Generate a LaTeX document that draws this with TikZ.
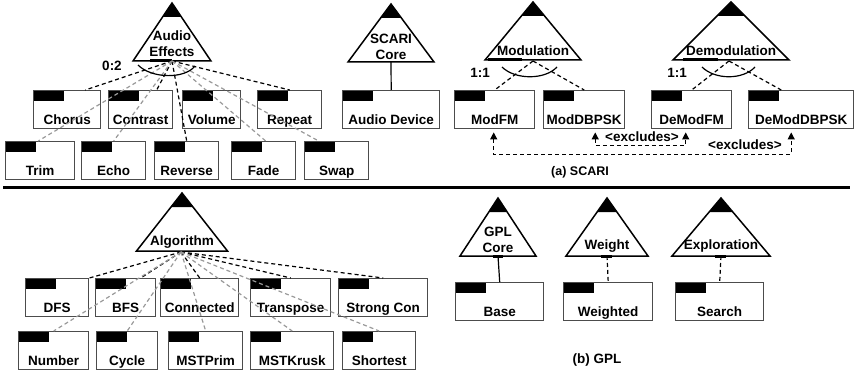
\documentclass[tikz,border=0pt]{standalone}
\usepackage{fontspec}
\setmainfont{Liberation Sans}
\usetikzlibrary{arrows.meta,calc,positioning}
% feature triangle: apex x, apex y, half base
\newcommand{\feattri}[3]{%
  \filldraw[tri] (#1,#2) -- ++(#3,58) -- ++({-2*#3},0) -- cycle;
  \fill (#1,#2) -- ++({0.24*#3},14) -- ++({-0.48*#3},0) -- cycle;}

\begin{document}
\begin{tikzpicture}[x=1pt,y=-1pt,>=Stealth,font=\fontsize{13.5}{16}\selectfont\bfseries,
  tri/.style={draw=black,fill=white,line width=1.5pt},
  fbox/.style={draw=black!70,line width=1.4pt,rectangle,anchor=north west,
    inner xsep=0pt,inner ysep=0pt,text height=34pt,text depth=4pt,
    path picture={\fill (path picture bounding box.north west) rectangle ++(30pt,-10pt);}},
  mand/.style={line width=1.2pt,dash pattern=on 4pt off 3pt},
  opt/.style={mand,black!40},
  excl/.style={line width=1.2pt,dash pattern=on 4pt off 3pt,
    {Triangle[width=7pt,length=7pt]}-{Triangle[width=7pt,length=7pt]}},
  port/.style={line width=3pt},
  card/.style={inner sep=0pt}]
  \useasboundingbox (0,0) rectangle (856,374);

  % (a) SCARI
  \feattri{172}{3}{39}
  \feattri{391}{4}{43}
  \feattri{533}{2}{48}
  \feattri{731}{2}{58}
  \draw[port] (150,61) -- (172,61);
  \draw[port] (488,60) -- (522,60);
  \draw[port] (683,60) -- (718,60);
  \node[align=center,card] (tae) at (172,43.5) {Audio\\Effects};
  \node[align=center,card] (tscari) at (391,46.5) {SCARI\\Core};
  \node[card] (tmod) at (533,51) {Modulation};
  \node[card] (tdemod) at (731,51) {Demodulation};
  \coordinate (ae) at (172,61);
  \coordinate (scari) at (391,62);
  \coordinate (mod) at (533,61);
  \coordinate (demod) at (729,61);

  \node[fbox,minimum width=67pt] (chorus) at (33,90) {Chorus};
  \node[fbox,minimum width=64pt] (contrast) at (108,90) {Contrast};
  \node[fbox,minimum width=58pt] (volume) at (182,90) {Volume};
  \node[fbox,minimum width=64pt] (repeat) at (257,90) {Repeat};
  \node[fbox,minimum width=97pt] (audiodev) at (342,90) {Audio Device};
  \node[fbox,minimum width=80pt] (modfm) at (454,90) {ModFM};
  \node[fbox,minimum width=81pt] (moddbpsk) at (543,90) {ModDBPSK};
  \node[fbox,minimum width=80pt] (demodfm) at (651,90) {DeModFM};
  \node[fbox,minimum width=105pt] (demoddbpsk) at (748,90) {DeModDBPSK};
  \node[fbox,minimum width=69pt] (trim) at (5,141) {Trim};
  \node[fbox,minimum width=64pt] (echo) at (81,141) {Echo};
  \node[fbox,minimum width=64pt] (reverse) at (154,141) {Reverse};
  \node[fbox,minimum width=64pt] (fade) at (231,141) {Fade};
  \node[fbox,minimum width=64pt] (swap) at (304,141) {Swap};

  \draw[mand] (ae) -- ($(chorus.north)+(18,0)$);
  \draw[mand] (ae) -- ($(contrast.north)+(16,0)$);
  \draw[mand] (ae) -- (repeat.north);
  \draw[mand] (ae) -- (reverse.north);
  \draw[opt] (ae) -- ($(trim.north)+(-2,0)$);
  \draw[opt] (ae) -- (echo.north);
  \draw[opt] (ae) -- ($(fade.north)+(2,0)$);
  \draw[opt] (ae) -- ($(swap.north)+(-18,0)$);
  \draw[line width=1.2pt] (138,65) .. controls (152,79) and (185,79) .. (195,66);
  \node[card] (card1) at (112,66) {0:2};

  \draw[line width=1.2pt] (scari) -- (audiodev.north);

  \draw[mand] (mod) -- (modfm.north);
  \draw[mand] (mod) -- (moddbpsk.north);
  \draw[line width=1.2pt] (502,67) .. controls (515,80) and (545,80) .. (557,67);
  \node[card] (card2) at (480,73) {1:1};
  \draw[mand] (demod) -- (demodfm.north);
  \draw[mand] (demod) -- ($(demoddbpsk.north)+(-20,0)$);
  \draw[line width=1.2pt] (702,67) .. controls (715,80) and (743,80) .. (755,67);
  \node[card] (card3) at (677,73) {1:1};

  \draw[excl] ($(moddbpsk.south)+(11,3)$) -- ++(0,13) -| ($(demodfm.south)+(-6,3)$);
  \node[card] (ex1) at (642,137) {\textless excludes\textgreater};
  \draw[excl] ($(modfm.south)+(-1,3)$) -- ++(0,22) -| ($(demoddbpsk.south)+(-10,3)$);
  \node[card] (ex2) at (745,145) {\textless excludes\textgreater};
  \node[card,font=\fontsize{12.5}{14}\selectfont\bfseries] (capa) at (580,172) {(a) SCARI};

  \draw[line width=3pt] (3,188) -- (850,188);

  % (b) GPL
  \feattri{182}{193}{45.5}
  \feattri{498}{198}{38}
  \feattri{607}{198}{41}
  \feattri{721}{198}{49}
  \draw[port] (493,256) -- (503,256);
  \draw[port] (601,256) -- (612,256);
  \draw[port] (715,256) -- (726,256);
  \node[card] (talg) at (182,242) {Algorithm};
  \node[align=center,card] (tgpl) at (498,239.5) {GPL\\Core};
  \node[card] (twgt) at (607,246) {Weight};
  \node[card] (texpl) at (721,246) {Exploration};
  \coordinate (alg) at (181,252);
  \coordinate (gplc) at (498,256);
  \coordinate (wgt) at (607,256);
  \coordinate (expl) at (721,256);

  \node[fbox,minimum width=63pt] (dfs) at (25,278) {DFS};
  \node[fbox,minimum width=60pt] (bfs) at (95,278) {BFS};
  \node[fbox,minimum width=78pt] (connected) at (160,278) {Connected};
  \node[fbox,minimum width=80pt] (transpose) at (250,278) {Transpose};
  \node[fbox,minimum width=89pt] (strongcon) at (338,278) {Strong Con};
  \node[fbox,minimum width=70pt] (number) at (18,331) {Number};
  \node[fbox,minimum width=61pt] (cycle) at (96,331) {Cycle};
  \node[fbox,minimum width=74pt] (mstprim) at (168,331) {MSTPrim};
  \node[fbox,minimum width=83pt] (mstkrusk) at (250,331) {MSTKrusk};
  \node[fbox,minimum width=73pt] (shortest) at (342,331) {Shortest};
  \node[fbox,minimum width=88pt] (base) at (455,282) {Base};
  \node[fbox,minimum width=89pt] (weighted) at (563,282) {Weighted};
  \node[fbox,minimum width=88pt] (search) at (675,282) {Search};

  \draw[mand] (alg) -- (dfs.north east);
  \draw[mand] (alg) -- ($(bfs.north)+(15,0)$);
  \draw[mand] (alg) -- (connected.north);
  \draw[mand] (alg) -- (transpose.north);
  \draw[mand] (alg) -- (strongcon.north);
  \draw[opt] (alg) -- (number.north);
  \draw[opt] (alg) -- (cycle.north);
  \draw[opt] (alg) -- (mstprim.north);
  \draw[opt] (alg) -- (mstkrusk.north);
  \draw[opt] (alg) -- (shortest.north);

  \draw[line width=1.2pt] (gplc) -- (base.north);
  \draw[mand] (wgt) -- (weighted.north);
  \draw[mand] (expl) -- (search.north);
  \node[card] (capb) at (597,360) {(b) GPL};
\end{tikzpicture}
\end{document}
